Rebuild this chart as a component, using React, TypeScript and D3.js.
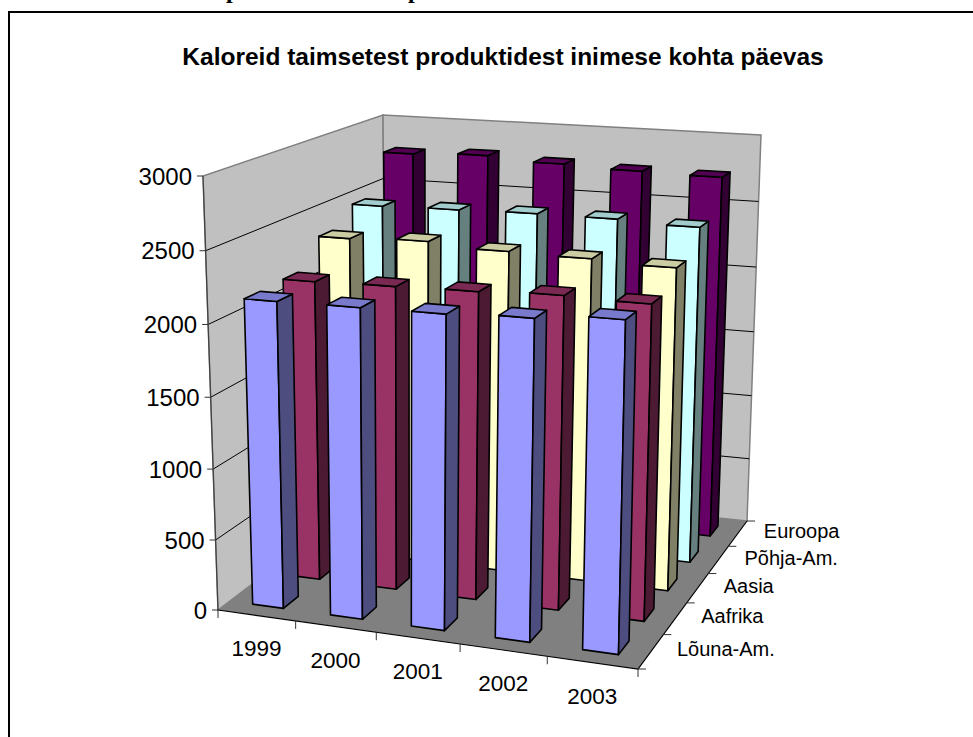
import React from "react";
import * as d3 from "d3";

const titleText = "Kaloreid taimsetest produktidest inimese kohta päevas";
const years = ["1999", "2000", "2001", "2002", "2003"];
const regions = ["Lõuna-Am.", "Aafrika", "Aasia", "Põhja-Am.", "Euroopa"];
const valueTicks = [0, 500, 1000, 1500, 2000, 2500, 3000];

const louna = [2150, 2155, 2160, 2180, 2220];
const aafrika = [2160, 2170, 2180, 2200, 2190];
const aasia = [2350, 2370, 2340, 2330, 2310];
const pohja = [2480, 2490, 2500, 2500, 2480];
const euroopa = [2780, 2800, 2770, 2750, 2740];
const seriesValues = [louna, aafrika, aasia, pohja, euroopa];

const frontColors = ["#9999ff", "#993366", "#ffffcc", "#ccffff", "#660066"];

type Pt = [number, number];
type Quad = [Pt, Pt, Pt, Pt];

// Corners of the box in screen space: (x,z) = (0,0), (1,0), (1,1), (0,1)
const floorQuad: Quad = [[218, 610], [638, 669], [747, 521], [386, 483]];
const topQuad: Quad = [[203, 176], [648, 204], [761, 135], [383, 115]];

function homography(q: Quad) {
  const [[x0, y0], [x1, y1], [x2, y2], [x3, y3]] = q;
  const dx1 = x1 - x2, dx2 = x3 - x2, sx = x0 - x1 + x2 - x3;
  const dy1 = y1 - y2, dy2 = y3 - y2, sy = y0 - y1 + y2 - y3;
  const det = dx1 * dy2 - dx2 * dy1;
  const g = (sx * dy2 - dx2 * sy) / det;
  const h = (dx1 * sy - sx * dy1) / det;
  const a = x1 - x0 + g * x1, b = x3 - x0 + h * x3, c = x0;
  const d = y1 - y0 + g * y1, e = y3 - y0 + h * y3, f = y0;
  return (u: number, v: number): Pt => {
    const w = g * u + h * v + 1;
    return [(a * u + b * v + c) / w, (d * u + e * v + f) / w];
  };
}
const floorAt = homography(floorQuad);
const topAt = homography(topQuad);

const valueScale = d3.scaleLinear().domain([0, 3000]).range([0, 1]);
const heightFrac = (val: number) => {
  const t = valueScale(val);
  return t / (1 + 0.04 * (1 - t));
};
const project = (x: number, z: number, val: number): Pt => {
  const a = floorAt(x, z), b = topAt(x, z), f = heightFrac(val);
  return [a[0] + (b[0] - a[0]) * f, a[1] + (b[1] - a[1]) * f];
};

const xBand = d3.scaleBand<string>().domain(years).range([0, 1]).paddingInner(0.6).paddingOuter(0.3);
const zBand = d3.scaleBand<string>().domain(regions).range([0, 1]).paddingInner(0.6).paddingOuter(0.3);
const xStep = d3.scaleBand<string>().domain(years).range([0, 1]);
const zStep = d3.scaleBand<string>().domain(regions).range([0, 1]);

const line = d3.line<Pt>();
const closed = (pts: Pt[]) => line(pts) + "Z";

const shade = (c: string, k: number) => {
  const col = d3.rgb(c);
  return d3.rgb(col.r * k, col.g * k, col.b * k).formatHex();
};

const SANS = "'Liberation Sans', Arial, sans-serif";

function Bar({ yi, zi }: { yi: number; zi: number }) {
  const x0 = xBand(years[yi])!, x1 = x0 + xBand.bandwidth();
  const z0 = zBand(regions[zi])!, z1 = z0 + zBand.bandwidth();
  const val = seriesValues[zi][yi];
  const c = frontColors[zi];
  const common = { stroke: "#000", strokeWidth: 1.6, strokeLinejoin: "round" as const };
  return (
    <g>
      <path d={closed([project(x0, z0, 0), project(x1, z0, 0), project(x1, z0, val), project(x0, z0, val)])} fill={c} {...common} />
      <path d={closed([project(x1, z0, 0), project(x1, z1, 0), project(x1, z1, val), project(x1, z0, val)])} fill={shade(c, 0.5)} {...common} />
      <path d={closed([project(x0, z0, val), project(x1, z0, val), project(x1, z1, val), project(x0, z1, val)])} fill={shade(c, 0.8)} {...common} />
    </g>
  );
}

export default function App() {
  const leftWall = closed([project(0, 0, 0), project(0, 1, 0), project(0, 1, 3000), project(0, 0, 3000)]);
  const backWall = closed([project(0, 1, 0), project(1, 1, 0), project(1, 1, 3000), project(0, 1, 3000)]);
  const floor = closed([project(0, 0, 0), project(1, 0, 0), project(1, 1, 0), project(0, 1, 0)]);
  const xEdges = [...years.map((y) => xStep(y)!), 1];
  const zEdges = [...regions.map((r) => zStep(r)!), 1];
  const order: { yi: number; zi: number }[] = [];
  for (let zi = regions.length - 1; zi >= 0; zi--)
    for (let yi = 0; yi < years.length; yi++) order.push({ yi, zi });

  return (
    <svg width={973} height={737} style={{ position: "absolute", left: 0, top: 0, background: "#fff" }}>
      <text x={226} y={-2.5} fontFamily="'Liberation Serif', serif" fontWeight="bold" fontSize={24} fill="#000">p</text>
      <text x={408} y={-2.5} fontFamily="'Liberation Serif', serif" fontWeight="bold" fontSize={24} fill="#000">p</text>
      <path d="M9,737V12H973" fill="none" stroke="#000" strokeWidth={2} />
      <text x={503} y={65} textAnchor="middle" fontFamily={SANS} fontWeight="bold" fontSize={24.5} fill="#000">{titleText}</text>

      <path d={leftWall} fill="#c0c0c0" stroke="#808080" strokeWidth={1.5} />
      <path d={backWall} fill="#c0c0c0" stroke="#808080" strokeWidth={1.5} />
      {valueTicks.filter((v) => v > 0 && v < 3000).map((v) => (
        <path key={v} d={line([project(0, 0, v), project(0, 1, v), project(1, 1, v)])!} fill="none" stroke="#000" strokeWidth={1} />
      ))}
      <path d={floor} fill="#808080" />
      <path d={line([project(0, 0, 0), project(1, 0, 0), project(1, 1, 0)])!} fill="none" stroke="#000" strokeWidth={1.2} />
      <path d={line([project(0, 0, 0), project(0, 0, 3000)])!} fill="none" stroke="#404040" strokeWidth={1.2} />

      {valueTicks.map((v) => {
        const [px, py] = project(0, 0, v);
        return (
          <g key={v}>
            <path d={line([[px - 6, py], [px, py]])!} stroke="#333" strokeWidth={1} />
            <text x={px - 11} y={py + 8.5} textAnchor="end" fontFamily={SANS} fontSize={24} fill="#000">{v}</text>
          </g>
        );
      })}
      {xEdges.map((x, i) => {
        const [px, py] = project(x, 0, 0);
        return <path key={i} d={line([[px, py], [px, py + 8]])!} stroke="#333" strokeWidth={1} />;
      })}
      {zEdges.map((z, i) => {
        const [px, py] = project(1, z, 0);
        return <path key={i} d={line([[px, py], [px + 8, py]])!} stroke="#333" strokeWidth={1} />;
      })}
      {years.map((y) => {
        const [px, py] = project(xStep(y)! + xStep.bandwidth() / 2, 0, 0);
        return <text key={y} x={px} y={py + 41} textAnchor="middle" fontFamily={SANS} fontSize={22.5} fill="#000">{y}</text>;
      })}
      {regions.map((r) => {
        const [px, py] = project(1, zStep(r)! + zStep.bandwidth() / 2, 0);
        return <text key={r} x={px + 26} y={py + 5} fontFamily={SANS} fontSize={20} fill="#000">{r}</text>;
      })}
      {order.map(({ yi, zi }) => <Bar key={`${zi}-${yi}`} yi={yi} zi={zi} />)}
    </svg>
  );
}
